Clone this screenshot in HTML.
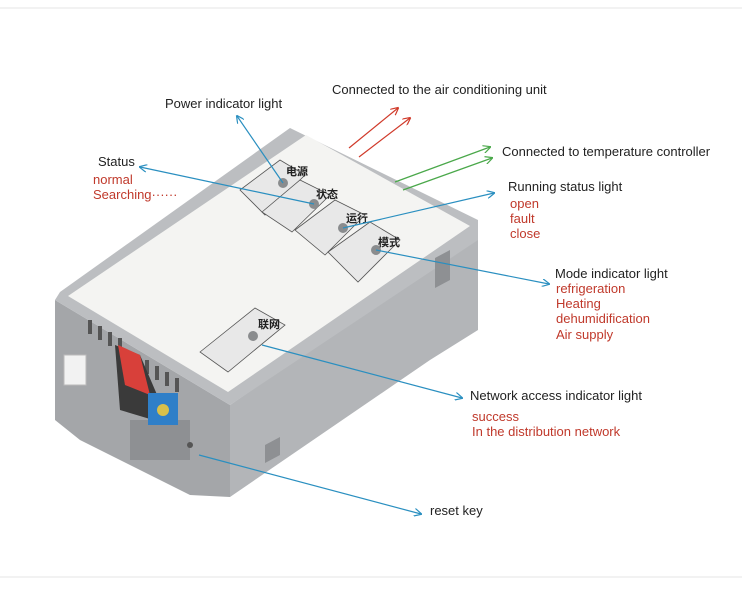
<!DOCTYPE html>
<html><head><meta charset="utf-8"><style>
html,body{margin:0;padding:0;background:#fff}
svg{display:block}
text{font-family:"Liberation Sans","Noto Sans CJK SC",sans-serif;font-size:13px}
.k{fill:#222}.r{fill:#c0392b}
</style></head><body>
<svg width="742" height="597" viewBox="0 0 742 597">
<defs>
<marker id="ab" markerWidth="8" markerHeight="8" refX="7" refY="4" orient="auto" markerUnits="userSpaceOnUse"><path d="M0,0 L8,4 L0,8" fill="none" stroke="#2a8fc0" stroke-width="1.2"/></marker>
<marker id="ar" markerWidth="8" markerHeight="8" refX="7" refY="4" orient="auto" markerUnits="userSpaceOnUse"><path d="M0,0 L8,4 L0,8" fill="none" stroke="#d03a2a" stroke-width="1.2"/></marker>
<marker id="ag" markerWidth="8" markerHeight="8" refX="7" refY="4" orient="auto" markerUnits="userSpaceOnUse"><path d="M0,0 L8,4 L0,8" fill="none" stroke="#4aa84a" stroke-width="1.2"/></marker>
</defs>
<line x1="0" y1="8" x2="742" y2="8" stroke="#e4e4e4"/>
<line x1="0" y1="577" x2="742" y2="577" stroke="#e4e4e4"/>
<polygon points="55,300 230,405 230,497 190,495 80,440 55,420" fill="#a4a6a9"/>
<polygon points="230,405 478,235 478,330 430,360 230,497" fill="#b3b5b8"/>
<polygon points="290,128 478,220 478,240 230,405 55,300 60,292" fill="#bcbec1"/>
<polygon points="306,135 470,226 228,392 68,296" fill="#f4f4f2"/>
<rect x="130" y="420" width="60" height="40" fill="#8e9093"/>
<polygon points="435,258 450,250 450,280 435,288" fill="#8e9093"/>
<polygon points="265,445 280,437 280,455 265,463" fill="#8e9093"/>
<g fill="#555"><rect x="88" y="320" width="4" height="14"/><rect x="98" y="326" width="4" height="14"/><rect x="108" y="332" width="4" height="14"/><rect x="118" y="338" width="4" height="14"/><rect x="145" y="360" width="4" height="14"/><rect x="155" y="366" width="4" height="14"/><rect x="165" y="372" width="4" height="14"/><rect x="175" y="378" width="4" height="14"/></g>
<polygon points="115,345 140,355 170,425 120,410" fill="#3a3a3a"/>
<polygon points="118,345 140,355 150,395 125,385" fill="#d8403a"/>
<rect x="148" y="393" width="30" height="32" fill="#2f7fc8"/>
<circle cx="163" cy="410" r="6" fill="#d9c04a"/>
<rect x="64" y="355" width="22" height="30" fill="#f2f2f2" stroke="#bbb"/>
<circle cx="190" cy="445" r="3" fill="#555"/>
<g fill="#e8e8e8" stroke="#555" stroke-width="0.8">
<polygon points="240,190 280,160 305,175 265,215"/>
<polygon points="262,212 300,180 330,195 292,232"/>
<polygon points="295,230 335,200 365,215 325,255"/>
<polygon points="328,252 370,222 400,240 358,282"/>
<polygon points="200,352 255,308 285,325 228,372"/>
</g>
<g fill="#8a8c8e"><circle cx="283" cy="183" r="5"/><circle cx="314" cy="204" r="5"/><circle cx="343" cy="228" r="5"/><circle cx="376" cy="250" r="5"/><circle cx="253" cy="336" r="5"/></g>
<g font-weight="bold" fill="#222"><text x="286" y="175" style="font-size:11px">电源</text><text x="316" y="198" style="font-size:11px">状态</text><text x="346" y="222" style="font-size:11px">运行</text><text x="378" y="246" style="font-size:11px">模式</text><text x="258" y="328" style="font-size:11px">联网</text></g>
<g stroke-width="1.2" fill="none">
<line x1="349" y1="148" x2="398" y2="108" stroke="#d03a2a" marker-end="url(#ar)"/>
<line x1="359" y1="157" x2="410" y2="118" stroke="#d03a2a" marker-end="url(#ar)"/>
<line x1="395" y1="182" x2="490" y2="147" stroke="#4aa84a" marker-end="url(#ag)"/>
<line x1="403" y1="190" x2="492" y2="158" stroke="#4aa84a" marker-end="url(#ag)"/>
<g stroke="#2a8fc0">
<line x1="283" y1="183" x2="237" y2="116" marker-end="url(#ab)"/>
<line x1="314" y1="204" x2="140" y2="167" marker-end="url(#ab)"/>
<line x1="343" y1="228" x2="494" y2="193" marker-end="url(#ab)"/>
<line x1="376" y1="250" x2="549" y2="284" marker-end="url(#ab)"/>
<line x1="262" y1="345" x2="462" y2="398" marker-end="url(#ab)"/>
<line x1="199" y1="455" x2="421" y2="514" marker-end="url(#ab)"/>
</g></g>
<text x="165" y="108" class="k">Power indicator light</text>
<text x="332" y="94" class="k">Connected to the air conditioning unit</text>
<text x="502" y="156" class="k">Connected to temperature controller</text>
<text x="98" y="166" class="k">Status</text>
<text x="93" y="184" class="r">normal</text>
<text x="93" y="199" class="r">Searching······</text>
<text x="508" y="191" class="k">Running status light</text>
<text x="510" y="208" class="r">open</text>
<text x="510" y="223" class="r">fault</text>
<text x="510" y="238" class="r">close</text>
<text x="555" y="278" class="k">Mode indicator light</text>
<text x="556" y="293" class="r">refrigeration</text>
<text x="556" y="308" class="r">Heating</text>
<text x="556" y="323" class="r">dehumidification</text>
<text x="556" y="339" class="r">Air supply</text>
<text x="470" y="400" class="k">Network access indicator light</text>
<text x="472" y="421" class="r">success</text>
<text x="472" y="436" class="r">In the distribution network</text>
<text x="430" y="515" class="k">reset key</text>
</svg>
</body></html>
